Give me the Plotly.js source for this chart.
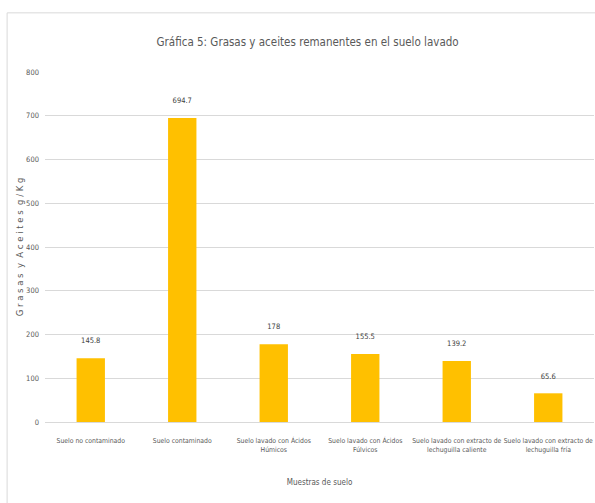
<!DOCTYPE html>
<html><head><meta charset="utf-8">
<script src="https://cdn.plot.ly/plotly-3.0.1.min.js"></script>
<style>body{margin:0;background:#fff}#c{width:595px;height:503px}</style>
</head><body><div id="c"></div>
<script>
const categories = ["Suelo no contaminado","Suelo contaminado","Suelo lavado con Ácidos<br>Húmicos","Suelo lavado con Ácidos<br>Fúlvicos","Suelo lavado con extracto de<br>lechuguilla caliente","Suelo lavado con extracto de<br>lechuguilla fría"];
const values = [145.8, 694.7, 178, 155.5, 139.2, 65.6];
const valueLabels = ["145.8","694.7","178","155.5","139.2","65.6"];
const yTicks = [0,100,200,300,400,500,600,700,800];
const F = "'DejaVu Sans Condensed','DejaVu Sans',sans-serif";
Plotly.newPlot('c', [{
  type:'bar', x:categories, y:values, text:valueLabels.map(s => s + '<br> '), textposition:'outside',
  textfont:{family:F,size:7.5,color:'#404040'}, cliponaxis:false,
  marker:{color:'#FFC000'}, hoverinfo:'none'
}], {
  width:595, height:503, margin:{l:45,r:1,t:72,b:81},
  paper_bgcolor:'#fff', plot_bgcolor:'#fff', bargap:0.69, showlegend:false,
  font:{family:F,color:'#595959'},
  title:{text:'Gráfica 5: Grasas y aceites remanentes en el suelo lavado', font:{family:F,size:11.5,color:'#595959'}, x:0.517, xanchor:'center', y:0.917, yanchor:'middle'},
  xaxis:{tickfont:{family:F,size:6.8,color:'#595959'}, tickangle:0, showline:true, linecolor:'#d9d9d9', ticks:'', automargin:false,
         ticklabelstandoff:12,
         title:{text:'Muestras de suelo', font:{family:F,size:8,color:'#595959'}, standoff:26}},
  yaxis:{range:[0,800], tickvals:yTicks, ticktext:yTicks.map(String), gridcolor:'#d9d9d9', zeroline:false, ticks:'', ticklen:0,
         tickfont:{family:F,size:7.5,color:'#595959'}, automargin:false, ticklabelstandoff:5,
         title:{text:'G r a s a s  y  A c e i t e s  g / K g', font:{family:'DejaVu Sans',size:8.5,color:'#595959'}, standoff:1}},
  shapes:[{type:'rect', xref:'paper', yref:'paper', x0:-0.069, x1:1.1, y0:-0.5, y1:1.169, line:{color:'#d9d9d9',width:1}, fillcolor:'rgba(0,0,0,0)', layer:'below'}]
}, {displayModeBar:false, staticPlot:true});
</script></body></html>
